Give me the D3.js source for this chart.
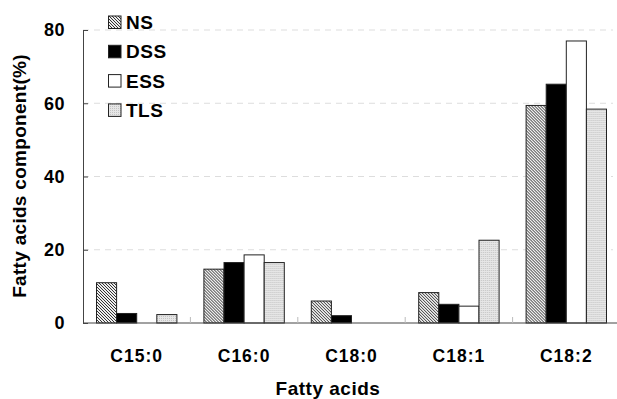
<!DOCTYPE html>
<html>
<head>
<meta charset="utf-8">
<script src="https://cdn.jsdelivr.net/npm/d3@7"></script>
<style>
body{margin:0;background:#fff;}
text{font-family:"Liberation Sans",Arial,sans-serif;font-weight:bold;}
</style>
</head>
<body>
<div id="chart"></div>
<script>
var categories = ["C15:0","C16:0","C18:0","C18:1","C18:2"];
var seriesNames = ["NS","DSS","ESS","TLS"];
var NS  = [11.0, 14.7, 6.0, 8.3, 59.4];
var DSS = [2.6, 16.5, 2.0, 5.1, 65.2];
var ESS = [0, 18.6, 0, 4.6, 77.0];
var TLS = [2.3, 16.5, 0, 22.6, 58.4];
var yTicks = [0,20,40,60,80];

var W = 617, H = 399;
var margin = {left:83, top:30, right:-3, bottom:76};
var svg = d3.select("#chart").append("svg").attr("width",W).attr("height",H);

var defs = svg.append("defs");
// NS hatch
var p1 = defs.append("pattern").attr("id","hatch").attr("patternUnits","userSpaceOnUse")
  .attr("width",3).attr("height",3);
p1.append("rect").attr("width",3).attr("height",3).attr("fill","#eee");
p1.append("path").attr("d","M-1,-1 L4,4 M-1,2 L1,4 M2,-1 L4,1").attr("stroke","#333").attr("stroke-width",1);
// TLS dots
var p2 = defs.append("pattern").attr("id","dots").attr("patternUnits","userSpaceOnUse")
  .attr("width",2).attr("height",2);
p2.append("rect").attr("width",2).attr("height",2).attr("fill","#e6e6e6");
p2.append("rect").attr("width",1).attr("height",1).attr("fill","#c4c4c4");

var fills = ["url(#hatch)","#000","#fff","url(#dots)"];
var data = [NS,DSS,ESS,TLS];

var x0 = d3.scaleBand().domain(categories).range([margin.left, W - margin.right]);
var x1 = d3.scaleBand().domain(seriesNames).range([13.5, x0.bandwidth()-13.5]);
var y = d3.scaleLinear().domain([0,80]).range([H - margin.bottom, margin.top]);

// grid
svg.append("g").selectAll("line").data(yTicks.slice(1)).enter().append("line")
  .attr("x1", margin.left).attr("x2", 613)
  .attr("y1", function(d){return y(d);}).attr("y2", function(d){return y(d);})
  .attr("stroke","#ddd").attr("stroke-dasharray","6,5");

// bars
categories.forEach(function(c,i){
  var g = svg.append("g").attr("transform","translate("+x0(c)+",0)");
  seriesNames.forEach(function(s,j){
    var v = data[j][i];
    if (v <= 0) return;
    g.append("rect")
      .attr("x", x1(s)).attr("width", x1.bandwidth())
      .attr("y", y(v)).attr("height", y(0)-y(v))
      .attr("fill", fills[j]).attr("stroke","#222").attr("stroke-width",1);
  });
});

// y axis
var yAxis = d3.axisLeft(y).tickValues(yTicks).tickSize(-5).tickPadding(18);
var ga = svg.append("g").attr("transform","translate("+margin.left+",0)").call(yAxis);
ga.select(".domain").attr("stroke","#444");
ga.selectAll(".tick line").attr("stroke","#444");
ga.selectAll("text").attr("font-size","18px").attr("fill","#000")
  .style("font-family","Liberation Sans, Arial").style("font-weight","bold")
  .style("letter-spacing","0.5px");

// x axis
svg.append("line").attr("x1",margin.left).attr("x2",W).attr("y1",y(0)).attr("y2",y(0))
  .attr("stroke","#444").attr("stroke-width",1.2);
svg.append("g").selectAll("line").data(categories.slice(1)).enter().append("line")
  .attr("x1", function(d){return x0(d);}).attr("x2", function(d){return x0(d);})
  .attr("y1", y(0)).attr("y2", y(0)-6).attr("stroke","#bbb");
svg.append("g").selectAll("text").data(categories).enter().append("text")
  .attr("x", function(d){return x0(d)+x0.bandwidth()/2;})
  .attr("y", 362).attr("text-anchor","middle").attr("font-size","17.5px")
  .style("letter-spacing","1px")
  .text(function(d){return d;});

// titles
svg.append("text").attr("x",328).attr("y",395).attr("text-anchor","middle")
  .attr("font-size","19px").style("letter-spacing","0.5px").text("Fatty acids");
svg.append("text").attr("transform","translate(26,176) rotate(-90)")
  .attr("text-anchor","middle").attr("font-size","19px").style("letter-spacing","0.3px")
  .text("Fatty acids component(%)");

// legend
var leg = svg.append("g");
seriesNames.forEach(function(s,j){
  var ly = 22 + j*29.3;
  leg.append("rect").attr("x",108.5).attr("y",ly-6).attr("width",12.5).attr("height",12.5)
    .attr("fill",fills[j]).attr("stroke","#222");
  leg.append("text").attr("x",126).attr("y",ly+7).attr("font-size","19px")
    .style("letter-spacing","0.5px").text(s);
});
</script>
</body>
</html>
